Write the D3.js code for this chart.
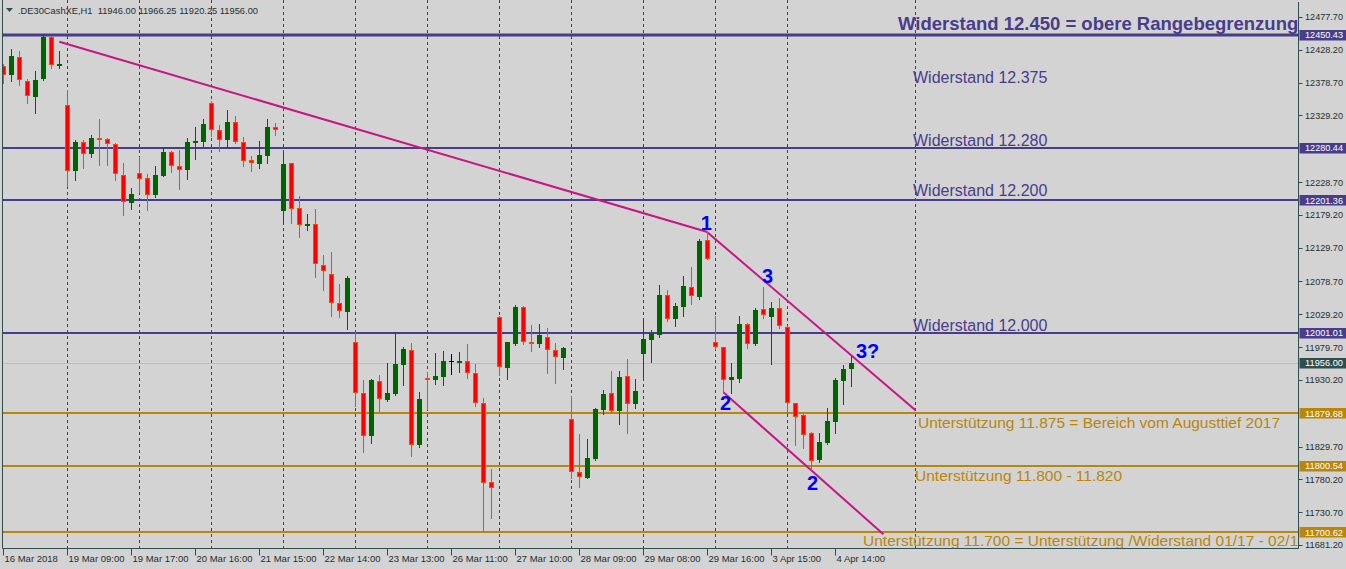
<!DOCTYPE html>
<html><head><meta charset="utf-8">
<script src="https://cdn.jsdelivr.net/npm/d3@7"></script>
<style>html,body{margin:0;padding:0;background:#D3D3D3;}svg{display:block}</style>
</head><body><svg id="c" width="1346" height="569"></svg>
<script>
// ---------------- DATA ----------------
const symbolInfo = ".DE30CashXE,H1  11946.00 11966.25 11920.25 11956.00";

const open = [12403.7,12390.1,12417.2,12381.0,12356.9,12384.0,12447.4,12405.2,12344.8,12245.3,
12289.0,12270.9,12295.1,12293.5,12286.0,12239.3,12197.0,12242.3,12234.7,12209.1,
12237.7,12274.0,12252.8,12246.8,12287.5,12289.0,12347.9,12307.1,12292.0,12319.2,
12289.0,12261.9,12255.8,12267.9,12311.6,12185.0,12257.4,12189.5,12163.8,12165.4,
12103.5,12090.0,12046.2,12032.6,11987.4,11910.5,11845.6,11928.5,11899.9,11909.0,
11952.7,11975.3,11832.0,11933.1,11930.0,11934.6,11958.7,11957.2,11958.7,11940.6,
11895.4,11776.2,12025.1,11948.2,11984.3,12040.2,11987.4,11984.3,11994.9,11975.3,
11963.2,11871.2,11791.3,11782.2,11810.9,11884.8,11910.5,11883.3,11936.1,11893.9,
11969.3,11990.4,11997.9,12058.3,12022.1,12040.2,12070.3,12055.2,12141.2,11987.4,
11979.8,11930.0,11931.5,12014.5,11984.3,12037.1,12025.1,12038.6,12010.0,11895.4,
11877.3,11850.1,11809.4,11835.0,11866.7,11928.5,11946.0];

const high = [12406.7,12429.3,12426.3,12384.0,12396.1,12451.9,12448.9,12426.3,12367.5,12292.0,
12292.0,12299.6,12323.7,12295.1,12287.5,12257.4,12219.6,12266.4,12240.8,12252.8,
12281.5,12275.5,12277.0,12295.1,12311.6,12323.7,12350.9,12314.7,12337.3,12328.2,
12296.6,12267.9,12290.5,12323.7,12317.7,12274.0,12258.0,12207.6,12180.4,12188.0,
12118.6,12123.1,12074.8,12086.9,12002.4,11930.0,11931.0,11937.6,11955.7,12002.4,
11979.8,11985.8,11911.9,11942.1,11970.8,11973.8,11969.3,11972.3,11984.3,11954.2,
11902.9,11795.8,12026.0,11988.0,12043.2,12041.0,12013.0,12014.5,12008.5,11985.8,
11979.8,11905.9,11848.6,11841.1,11887.8,11915.0,11943.6,11943.6,11961.7,11931.5,
12023.6,12005.5,12073.3,12065.8,12046.2,12086.9,12100.5,12142.7,12153.3,12026.6,
11980.5,11955.7,12026.6,12016.0,12038.6,12070.3,12047.7,12053.7,12011.0,11896.0,
11878.8,11851.0,11850.1,11887.8,11933.1,11952.7,11966.25];

const low = [12378.0,12381.0,12375.0,12347.9,12332.8,12383.0,12400.6,12400.6,12222.6,12231.7,
12249.8,12266.4,12254.3,12254.3,12231.7,12178.9,12188.0,12213.6,12186.5,12206.1,
12237.0,12243.8,12218.1,12233.2,12263.4,12283.0,12298.1,12275.5,12281.5,12288.0,
12252.8,12245.3,12249.8,12257.4,12299.6,12169.9,12166.9,12145.7,12156.3,12085.4,
12065.8,12026.6,12025.1,12007.0,11890.8,11821.5,11835.0,11883.3,11899.0,11907.4,
11922.5,11815.4,11829.0,11886.3,11924.0,11922.5,11939.1,11942.1,11933.1,11890.8,
11702.3,11721.9,11937.6,11931.5,11983.5,11984.3,11973.8,11979.8,11940.6,11925.5,
11946.6,11782.2,11768.7,11781.5,11809.4,11878.8,11881.8,11863.7,11850.1,11887.8,
11934.6,11957.2,11994.9,12019.0,12011.5,12026.6,12044.7,12052.2,12112.0,11976.8,
11910.5,11910.5,11927.0,11978.3,11983.5,12023.6,11954.2,12008.5,11880.3,11832.0,
11827.5,11794.2,11806.4,11834.0,11850.1,11893.9,11920.25];

const close = [12390.1,12418.7,12382.5,12358.4,12382.5,12447.4,12405.2,12406.7,12245.3,12289.0,
12270.9,12295.1,12293.5,12286.0,12240.8,12198.5,12210.6,12233.2,12209.1,12239.3,
12274.0,12252.8,12246.8,12289.0,12290.5,12316.2,12307.1,12292.0,12319.2,12289.0,
12260.4,12257.4,12269.4,12311.6,12307.1,12255.8,12188.0,12163.8,12165.4,12105.0,
12094.5,12046.2,12034.1,12083.9,11910.5,11845.6,11930.0,11901.4,11910.5,11954.2,
11976.8,11832.0,11901.4,11930.0,11936.1,11958.7,11958.7,11958.7,11940.6,11895.4,
11774.7,11767.2,11949.7,11987.4,12040.2,11987.4,11984.3,11997.9,11975.3,11964.8,
11978.3,11791.3,11783.7,11812.4,11886.3,11909.0,11883.3,11934.6,11893.9,11913.5,
11991.9,12000.9,12058.3,12022.1,12041.7,12071.8,12056.7,12139.7,12112.6,11979.8,
11930.0,11934.6,12014.5,11984.3,12035.6,12028.1,12038.6,12011.5,11895.4,11874.2,
11847.1,11807.9,11836.5,11868.2,11930.0,11946.6,11956.0];

const timeTickBars = [0,8,16,24,32,40,48,56,64,72,80,88,96,104];
const timeTickLabels = ["16 Mar 2018","19 Mar 09:00","19 Mar 17:00","20 Mar 16:00","21 Mar 15:00",
  "22 Mar 14:00","23 Mar 13:00","26 Mar 11:00","27 Mar 10:00","28 Mar 09:00","29 Mar 08:00",
  "29 Mar 16:00","3 Apr 15:00","4 Apr 14:00"];
const separatorBars = [8,17,26,35,44,53,62,71,80,89,98,114];

const priceTicks = [12477.70,12428.20,12378.70,12329.20,12228.70,12179.20,12129.70,12078.70,
  12029.20,11979.70,11930.20,11829.70,11780.20,11730.70,11681.20];

const resistanceLevels = [12450.43,12280.44,12201.36,12001.01];
const supportLevels = [11879.68,11800.54,11700.62];
const currentPrice = 11956.00;

// trend lines: [bar1, price1, bar2, price2]
const trendLines = [[6.98,12440.3,87.9,12153.7],[87.9,12153.7,114.0,11884.5],[89.98,11911.5,109.98,11697.5]];

const resistanceNotes = ["Widerstand 12.450 = obere Rangebegrenzung","Widerstand 12.375","Widerstand 12.280","Widerstand 12.200","Widerstand 12.000"];
const resistanceNoteBars = [111.81,113.69,113.69,113.69,113.69];
const resistanceNotePrices = [12457.9,12378.0,12283.0,12207.6,12004.0];

const supportNotes = ["Unterstützung 11.875 = Bereich vom Augusttief 2017","Unterstützung 11.800 - 11.820","Unterstützung 11.700 = Unterstützung /Widerstand 01/17 - 02/17"];
const supportNoteBars = [114.31,113.94,107.44];
const supportNotePrices = [11857.7,11777.8,11679.7];

const waveLabels = ["1","3","2","2","3?"];
const waveBars = [87.15,94.81,89.56,100.44,106.56];
const wavePrices = [12156.3,12076.4,11884.8,11764.1,11963.2];

// ---------------- CHART ----------------
const W = 1346, H = 569;
const plotL = 2.5, plotR = 1298.5, plotB = 548.5;
const C = {bg:"#D3D3D3", frame:"#2F4F4F", res:"#483D8B", sup:"#B8860B", trend:"#C71585",
  bull:"#006400", bearFill:"#FF0000", bearLine:"#FF4500", wave:"#0000FF", cur:"#2F4F4F"};
const svg = d3.select("#c");
svg.append("rect").attr("width",W).attr("height",H).attr("fill",C.bg);

const x = d3.scaleLinear().domain([0,1]).range([3.5,11.5]);
const y = d3.scaleLinear().domain([11675.9,12503.22]).range([548.5,0]);

svg.append("defs").append("clipPath").attr("id","pc").append("rect")
  .attr("x",3).attr("y",0).attr("width",plotR-3).attr("height",plotB);
const g = svg.append("g").attr("clip-path","url(#pc)");

// separators
g.selectAll("line.sep").data(separatorBars).join("line")
  .attr("x1",d=>x(d)).attr("x2",d=>x(d)).attr("y1",0).attr("y2",plotB)
  .attr("stroke",C.frame).attr("stroke-width",1).attr("stroke-dasharray","3,3");

// current price line
const cy = Math.round(y(currentPrice))+0.5;
g.append("line").attr("x1",3).attr("x2",plotR).attr("y1",cy).attr("y2",cy)
  .attr("stroke","#BDBDBD").attr("stroke-width",1);

// level lines
const levels = resistanceLevels.map(v=>({v,c:C.res})).concat(supportLevels.map(v=>({v,c:C.sup})));
g.selectAll("line.lvl").data(levels).join("line")
  .attr("x1",3).attr("x2",plotR)
  .attr("y1",d=>Math.round(y(d.v))).attr("y2",d=>Math.round(y(d.v)))
  .attr("stroke",d=>d.c).attr("stroke-width",(d,i)=>i===0?3:2);

// trend lines
g.selectAll("line.tr").data(trendLines).join("line")
  .attr("x1",d=>x(d[0])).attr("y1",d=>y(d[1])).attr("x2",d=>x(d[2])).attr("y2",d=>y(d[3]))
  .attr("stroke",C.trend).attr("stroke-width",2);

// candles
const bars = open.map((o,i)=>({i,o,h:high[i],l:low[i],c:close[i]}));
const cg = g.append("g");
bars.forEach(b=>{
  const cx = x(b.i);
  const bull = b.c > b.o, doji = b.c === b.o;
  const wickCol = doji ? "#000" : (bull ? C.bull : C.bearLine);
  cg.append("line").attr("x1",cx).attr("x2",cx)
    .attr("y1",Math.round(y(b.h))).attr("y2",Math.round(y(b.l))+1)
    .attr("stroke",wickCol).attr("stroke-width",1);
  const yt = Math.round(y(Math.max(b.o,b.c))), yb = Math.round(y(Math.min(b.o,b.c)));
  if (doji || yb - yt < 2) {
    cg.append("rect").attr("x",cx-2.5).attr("y",yt).attr("width",5).attr("height",Math.max(1,yb-yt+1))
      .attr("fill",wickCol);
  } else if (bull) {
    cg.append("rect").attr("x",cx-2.5).attr("y",yt).attr("width",5).attr("height",yb-yt)
      .attr("fill",C.bull);
  } else {
    cg.append("rect").attr("x",cx-2).attr("y",yt+0.5).attr("width",4).attr("height",yb-yt-1)
      .attr("fill",C.bearFill).attr("stroke",C.bearLine).attr("stroke-width",1);
  }
});

// notes
g.selectAll("text.rn").data(resistanceNotes).join("text")
  .attr("x",(d,i)=>x(resistanceNoteBars[i])).attr("y",(d,i)=>y(resistanceNotePrices[i]))
  .attr("font-family","'Liberation Sans', Arial, sans-serif")
  .attr("font-size",(d,i)=>i===0?"18.5px":"16px").attr("font-weight",(d,i)=>i===0?"bold":"normal")
  .attr("fill",C.res).text(d=>d);
g.selectAll("text.sn").data(supportNotes).join("text")
  .attr("x",(d,i)=>x(supportNoteBars[i])).attr("y",(d,i)=>y(supportNotePrices[i]))
  .attr("font-family","'Liberation Sans', Arial, sans-serif").attr("font-size","15.5px")
  .attr("fill",C.sup).text(d=>d);

// wave labels
g.selectAll("text.wv").data(waveLabels).join("text")
  .attr("x",(d,i)=>x(waveBars[i])).attr("y",(d,i)=>y(wavePrices[i]))
  .attr("font-family","'Liberation Sans', Arial, sans-serif").attr("font-size","20px")
  .attr("font-weight","bold").attr("fill",C.wave).text(d=>d);

// frame
svg.append("path").attr("d",`M${plotL},0V${plotB}H${plotR}V2`).attr("fill","none")
  .attr("stroke",C.frame).attr("stroke-width",1);

// header
svg.append("path").attr("d","M6,8H13L9.5,12Z").attr("fill",C.frame);
svg.append("text").attr("x",18).attr("y",14).attr("font-family","'Liberation Sans', Arial, sans-serif")
  .attr("font-size","9.5px").attr("fill","#1f2f2f").style("white-space","pre")
  .attr("textLength",240).attr("lengthAdjust","spacingAndGlyphs").text(symbolInfo);

// right price axis
const fontAx = "'Liberation Sans', Arial, sans-serif";
const ra = svg.append("g");
ra.selectAll("line").data(priceTicks).join("line")
  .attr("x1",plotR).attr("x2",plotR+4).attr("y1",d=>Math.round(y(d))+0.5).attr("y2",d=>Math.round(y(d))+0.5)
  .attr("stroke",C.frame);
ra.selectAll("text").data(priceTicks).join("text")
  .attr("x",1305).attr("y",d=>y(d)+3.5).attr("font-family",fontAx).attr("font-size","9px")
  .attr("fill","#1f2f2f").attr("textLength",38).attr("lengthAdjust","spacingAndGlyphs")
  .text(d=>d.toFixed(2));

const boxes = resistanceLevels.map(v=>({v,c:C.res})).concat([{v:currentPrice,c:C.cur}])
  .concat(supportLevels.map(v=>({v,c:C.sup})));
const bx = svg.append("g").selectAll("g").data(boxes).join("g");
bx.append("rect").attr("x",1299.5).attr("y",d=>Math.round(y(d.v))-5).attr("width",47).attr("height",10.5)
  .attr("fill",d=>d.c);
bx.append("text").attr("x",1305).attr("y",d=>y(d.v)+3.5).attr("font-family",fontAx).attr("font-size","9px")
  .attr("fill","#fff").attr("textLength",38).attr("lengthAdjust","spacingAndGlyphs").text(d=>d.v.toFixed(2));

// bottom time axis
const ba = svg.append("g");
ba.selectAll("line").data(timeTickBars).join("line")
  .attr("x1",d=>x(d)).attr("x2",d=>x(d)).attr("y1",plotB).attr("y2",plotB+7)
  .attr("stroke",C.frame);
ba.selectAll("text").data(timeTickLabels).join("text")
  .attr("x",(d,i)=>x(timeTickBars[i])+1).attr("y",562).attr("font-family",fontAx).attr("font-size","9.5px")
  .attr("fill","#1f2f2f").text(d=>d);
</script></body></html>
